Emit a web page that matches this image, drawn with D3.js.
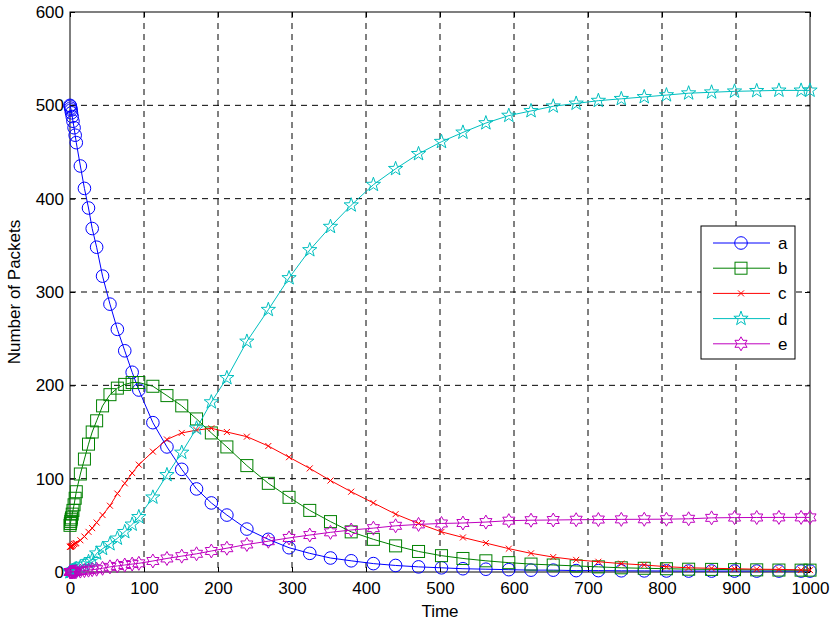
<!DOCTYPE html>
<html>
<head>
<meta charset="utf-8">
<script src="https://cdn.jsdelivr.net/npm/d3@7"></script>
<style>
body { margin: 0; background: #fff; }
text { font-family: "Liberation Sans", Arial, sans-serif; }
</style>
</head>
<body>
<script>
// shared solver output times
var times = [0, 0.5, 1, 1.5, 2, 3, 4, 5.5, 7, 8.5, 14, 19.5, 25, 30, 36, 44, 54, 64, 74, 84, 93,
  112, 131, 151, 171, 191, 212, 239, 268, 296, 324, 352, 380, 410, 440, 471, 502, 531, 562,
  593, 623, 653, 684, 714, 745, 776, 806, 836, 867, 898, 928, 958, 988, 1000];

var seriesA = [500, 499, 497, 495, 492, 488, 483, 476, 468, 460, 435, 411, 390, 368, 348, 317, 287,
  260, 237, 214, 195, 160, 134, 110, 89, 74, 61, 46, 35, 26, 20, 15, 12, 9, 7, 5.5, 4.5, 3.5, 3,
  2.5, 2, 2, 1.5, 1.5, 1.3, 1.2, 1.1, 1, 1, 1, 1, 1, 1, 1];
var seriesB = [50, 52, 54, 56, 58, 62, 66, 72, 79, 86, 105, 121, 137, 150, 162, 178, 190,
  197, 201, 203, 203, 199, 189, 178, 164, 149, 134, 114, 95, 80, 66, 54, 43, 35, 28, 22, 17.5,
  14.5, 12, 10, 8.5, 7.5, 6.5, 5.5, 4.5, 4, 3.5, 3, 2.8, 2.5, 2.3, 2.1, 2, 2];
var seriesC = [27, 27, 27, 27.5, 28, 28, 29, 30, 30.5, 31, 34, 38, 43, 47, 53, 61, 71,
  84, 95, 106, 115, 129, 142, 149, 152, 154, 150, 145, 135, 123, 111, 98, 86, 74, 62, 52, 43,
  37, 31, 25, 20, 16, 13, 11, 9, 7.5, 5.7, 4.5, 4, 3.5, 3, 2.8, 2.2, 2];
var seriesD = [0, 0.2, 0.4, 0.6, 0.8, 1.2, 1.6, 2.2, 3, 3.5, 5.5, 8, 11, 13, 20, 25, 30,
  36, 43, 51, 59, 80, 104, 128, 154, 182, 208, 247, 281, 315, 345, 370, 393, 415, 432, 448, 461,
  471, 481, 489, 494, 499, 502, 505, 507, 509, 511, 513, 514, 515, 515.5, 516, 516, 516];
var seriesE = [0, 0, 0, 0, 0, 0.1, 0.1, 0.2, 0.3, 0.5, 1, 1.5, 2, 2.5, 3, 4, 5.5,
  6.5, 7.5, 8.5, 9.3, 11.8, 14.5, 17, 19.5, 22.5, 25.5, 29.5, 33, 36.5, 39.6, 42.5, 45, 47,
  49.5, 51, 52, 52.5, 53.5, 55, 55.5, 55.7, 56, 56.2, 56.4, 56.5, 56.6, 57, 58, 58.3, 58.4,
  58.5, 58.5, 58.5];

var seriesNames = ["a", "b", "c", "d", "e"];
var seriesColors = ["#0000ff", "#008000", "#ff0000", "#00bfbf", "#bf00bf"];
var seriesMarkers = ["circle", "square", "cross", "pentagram", "hexagram"];
var seriesValues = [seriesA, seriesB, seriesC, seriesD, seriesE];

var xTicks = [0, 100, 200, 300, 400, 500, 600, 700, 800, 900, 1000];
var yTicks = [0, 100, 200, 300, 400, 500, 600];

var width = 833, height = 623;
var pLeft = 70, pRight = 810, pTop = 12, pBottom = 572;
var fontSize = 17;

var svg = d3.select("body").append("svg")
    .attr("width", width)
    .attr("height", height);

var x = d3.scaleLinear().domain([0, 1000]).range([pLeft, pRight]);
var y = d3.scaleLinear().domain([0, 600]).range([pBottom, pTop]);

// grid
svg.append("g").selectAll("line")
    .data(xTicks.slice(1, -1)).enter().append("line")
    .attr("x1", function(d) { return x(d); }).attr("x2", function(d) { return x(d); })
    .attr("y1", pTop).attr("y2", pBottom)
    .attr("stroke", "#000").attr("stroke-width", 1).attr("stroke-dasharray", "6,5");
svg.append("g").selectAll("line")
    .data(yTicks.slice(1, -1)).enter().append("line")
    .attr("y1", function(d) { return y(d); }).attr("y2", function(d) { return y(d); })
    .attr("x1", pLeft).attr("x2", pRight)
    .attr("stroke", "#000").attr("stroke-width", 1).attr("stroke-dasharray", "6,5");

// axes with inward ticks
svg.append("g").attr("transform", "translate(0," + pBottom + ")")
    .call(d3.axisBottom(x).tickValues(xTicks).tickFormat(d3.format("d"))
      .tickSizeInner(-5).tickSizeOuter(0).tickPadding(10));
svg.append("g").attr("transform", "translate(" + pLeft + ",0)")
    .call(d3.axisLeft(y).tickValues(yTicks).tickFormat(d3.format("d"))
      .tickSizeInner(-5).tickSizeOuter(0).tickPadding(6));
svg.append("g").attr("transform", "translate(0," + pTop + ")")
    .call(d3.axisTop(x).tickValues(xTicks).tickSizeInner(-5).tickSizeOuter(0).tickFormat(""));
svg.append("g").attr("transform", "translate(" + pRight + ",0)")
    .call(d3.axisRight(y).tickValues(yTicks).tickSizeInner(-5).tickSizeOuter(0).tickFormat(""));
svg.selectAll(".domain").remove();
svg.selectAll(".tick line").attr("stroke", "#000");
svg.selectAll(".tick text").attr("font-size", fontSize).attr("fill", "#000")
    .style("font-family", "Liberation Sans, Arial, sans-serif");

svg.append("rect")
    .attr("x", pLeft).attr("y", pTop)
    .attr("width", pRight - pLeft).attr("height", pBottom - pTop)
    .attr("fill", "none").attr("stroke", "#000").attr("stroke-width", 1);

svg.append("text").attr("x", (pLeft + pRight) / 2).attr("y", 617)
    .attr("text-anchor", "middle").attr("font-size", fontSize).text("Time");
svg.append("text")
    .attr("transform", "translate(20," + ((pTop + pBottom) / 2) + ") rotate(-90)")
    .attr("text-anchor", "middle").attr("font-size", fontSize).text("Number of Packets");

function starPath(n, rOut, rIn) {
  var pts = [];
  for (var i = 0; i < 2 * n; i++) {
    var a = -Math.PI / 2 + i * Math.PI / n;
    var r = i % 2 === 0 ? rOut : rIn;
    pts.push([r * Math.cos(a), r * Math.sin(a)]);
  }
  return "M" + pts.map(function(p) { return p[0].toFixed(2) + "," + p[1].toFixed(2); }).join("L") + "Z";
}

function drawMarker(g, kind, color) {
  if (kind === "circle") {
    g.append("circle").attr("r", 6.3);
  } else if (kind === "square") {
    g.append("rect").attr("x", -6).attr("y", -6).attr("width", 12).attr("height", 12);
  } else if (kind === "cross") {
    g.append("path").attr("d", "M-3,-3L3,3M-3,3L3,-3");
  } else if (kind === "pentagram") {
    g.append("path").attr("d", starPath(5, 7.5, 3.0));
  } else {
    g.append("path").attr("d", starPath(6, 7, 4.0));
  }
  g.selectAll("*").attr("fill", "none").attr("stroke", color).attr("stroke-width", 1);
}

var line = d3.line()
    .x(function(d) { return x(d[0]); })
    .y(function(d) { return y(d[1]); });

seriesValues.forEach(function(vals, i) {
  var pts = times.map(function(t, k) { return [t, vals[k]]; });
  var g = svg.append("g");
  g.append("path").datum(pts)
      .attr("d", line)
      .attr("fill", "none")
      .attr("stroke", seriesColors[i])
      .attr("stroke-width", 1);
  g.selectAll("g.m").data(pts).enter().append("g")
      .attr("class", "m")
      .attr("transform", function(d) { return "translate(" + x(d[0]) + "," + y(d[1]) + ")"; })
      .each(function() { drawMarker(d3.select(this), seriesMarkers[i], seriesColors[i]); });
});

// legend
var lg = svg.append("g");
lg.append("rect").attr("x", 701).attr("y", 226).attr("width", 94).attr("height", 133)
    .attr("fill", "#fff").attr("stroke", "#000").attr("stroke-width", 1);
seriesNames.forEach(function(name, i) {
  var ly = 243 + i * 25.2;
  lg.append("line").attr("x1", 713).attr("x2", 770).attr("y1", ly).attr("y2", ly)
      .attr("stroke", seriesColors[i]).attr("stroke-width", 1);
  var mg = lg.append("g").attr("transform", "translate(741," + ly + ")");
  drawMarker(mg, seriesMarkers[i], seriesColors[i]);
  lg.append("text").attr("x", 778).attr("y", ly + 6).attr("font-size", fontSize).text(name);
});
</script>
</body>
</html>
